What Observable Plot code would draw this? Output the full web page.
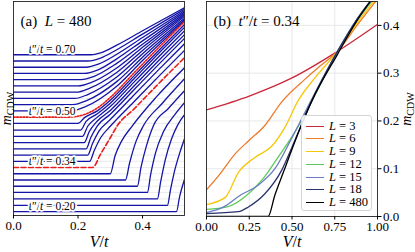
<!DOCTYPE html>
<html><head><meta charset="utf-8">
<script src="https://cdn.jsdelivr.net/npm/d3@7"></script>
<script src="https://cdn.jsdelivr.net/npm/@observablehq/plot@0.6"></script>
<style>
body{margin:0;background:#fff}
#wrap{position:relative;width:415px;height:252px;overflow:hidden;font-family:"Liberation Serif",serif;background:#fff}
.panel{position:absolute;top:0}
#legend{position:absolute;left:301px;top:115px;width:71px;height:96px;box-sizing:border-box;border:1px solid #d4d4d4;border-radius:3px;background:rgba(255,255,255,0.9)}
.row{position:absolute;left:0;height:12px;width:100%}
.sw{position:absolute;left:4px;width:18px;top:6px;height:0}
.lb{position:absolute;left:27px;top:0;font-size:12.5px;line-height:12px;height:12px;white-space:nowrap}
</style></head>
<body><div id="wrap"></div>
<script>
// ---------- panel (a): L = 480, curves for t''/t = 0.20 ... 0.70 ----------
const tppA = [0.20,0.22,0.24,0.26,0.28,0.30,0.32,0.34,0.36,0.38,0.40,0.42,0.44,0.46,0.48,0.50,0.52,0.54,0.56,0.58,0.60,0.62,0.64,0.66,0.68,0.70];
const aV = [
 [0,.505,.515,.53],
 [0,.477,.487,.50,.515,.53],
 [0,.446,.456,.47,.49,.51,.53],
 [0,.415,.425,.44,.465,.50,.53],
 [0,.384,.395,.412,.434,.48,.53],
 [0,.347,.36,.38,.403,.46,.53],
 [0,.30,.315,.335,.369,.44,.53],
 [0,.245,.27,.30,.322,.372,.45,.53],
 [0,.236,.25,.27,.30,.372,.45,.53],
 [0,.23,.245,.265,.30,.372,.45,.53],
 [0,.225,.24,.26,.30,.372,.45,.53],
 [0,.219,.235,.26,.30,.372,.45,.53],
 [0,.214,.23,.26,.30,.372,.45,.53],
 [0,.208,.225,.26,.30,.372,.45,.53],
 [0,.20,.22,.26,.30,.372,.45,.53],
 [0,.17,.20,.23,.26,.30,.372,.45,.53],
 [0,.18,.22,.32,.40,.53],
 [0,.185,.225,.32,.40,.53],
 [0,.19,.23,.32,.40,.53],
 [0,.195,.235,.32,.40,.53],
 [0,.20,.24,.32,.40,.53],
 [0,.21,.25,.32,.40,.53],
 [0,.22,.26,.32,.40,.53],
 [0,.225,.265,.32,.40,.53],
 [0,.23,.27,.32,.40,.53],
 [0,.24,.27,.32,.40,.53]
];
const aM = [
 [.008,.008,.04,.075],
 [.021,.021,.055,.095,.13,.16],
 [.0345,.0345,.07,.115,.16,.19,.21],
 [.048,.048,.085,.13,.175,.21,.235],
 [.061,.061,.10,.145,.1875,.223,.26],
 [.074,.074,.11,.155,.1875,.233,.285],
 [.087,.087,.125,.155,.1875,.245,.308],
 [.100,.100,.128,.162,.1875,.221,.275,.329],
 [.113,.113,.135,.162,.186,.236,.29,.344],
 [.126,.126,.15,.176,.20,.25,.304,.358],
 [.139,.139,.163,.187,.211,.261,.315,.369],
 [.152,.152,.175,.197,.219,.269,.323,.377],
 [.165,.165,.186,.205,.227,.277,.331,.385],
 [.178,.178,.196,.212,.234,.284,.338,.392],
 [.192,.192,.204,.218,.240,.290,.344,.398],
 [.205,.205,.207,.213,.224,.246,.296,.35,.404],
 [.218,.218,.226,.2695,.323,.406],
 [.231,.231,.239,.279,.330,.408],
 [.244,.244,.252,.2885,.337,.411],
 [.257,.257,.265,.298,.344,.415],
 [.270,.270,.277,.3075,.3505,.418],
 [.283,.283,.290,.317,.357,.421],
 [.296,.296,.303,.3265,.364,.424],
 [.309,.309,.316,.336,.371,.427],
 [.322,.322,.328,.3455,.378,.430],
 [.335,.335,.339,.355,.385,.433]
];
const labelledA = [0.70, 0.50, 0.34, 0.20];
const dashedA = 0.34, dottedA = 0.50;
const xTicksA = [0, 0.2, 0.4];

// ---------- panel (b): t''/t = 0.34, several L ----------
const sizesB = ["3","6","9","12","15","18","480"];
const colorsB = ["#c8283a","#ee7a2a","#f5c70a","#5ccc58","#6a7cc6","#2a336e","#000000"];
const bV = [
 [0,0.25,0.5,0.75,1.0],
 [0,0.07,0.17,0.245,0.34,0.44,0.575,0.675,0.767,0.88,1.0],
 [0,0.11,0.186,0.285,0.384,0.46,0.535,0.634,0.767,0.88,1.0],
 [0,0.12,0.227,0.326,0.42,0.5,0.6,0.767,0.88,1.0],
 [0,0.1,0.2,0.3,0.4,0.5,0.6,0.767,0.88,1.0],
 [0,0.186,0.245,0.34,0.44,0.5,0.6,0.767,0.88,1.0],
 [0,0.36,0.40,0.45,0.535,0.616,0.767,0.88,1.0]
];
const bM = [
 [0.223,0.252,0.290,0.342,0.402],
 [0.056,0.085,0.132,0.158,0.19,0.24,0.287,0.318,0.346,0.40,0.455],
 [0.025,0.04,0.092,0.124,0.148,0.1875,0.242,0.29,0.346,0.405,0.46],
 [0.015,0.02,0.042,0.077,0.125,0.167,0.23,0.346,0.41,0.465],
 [0.008,0.02,0.045,0.065,0.10,0.165,0.235,0.346,0.412,0.468],
 [0.006,0.01,0.02,0.047,0.097,0.145,0.23,0.346,0.413,0.47],
 [0,0,0.045,0.093,0.173,0.242,0.34,0.41,0.47]
];
const xTicksB = [0,0.25,0.5,0.75,1.0];
const yTicksB = [0,0.1,0.2,0.3,0.4];

// ---------- build tables ----------
const rowsA = tppA.flatMap((t,i)=>aV[i].map((v,j)=>({t, V:v, m:aM[i][j]})));
const blueA = rowsA.filter(d=>d.t!==dashedA && d.t!==dottedA);
const dashA = rowsA.filter(d=>d.t===dashedA);
const dotA = rowsA.filter(d=>d.t===dottedA);
const labA = labelledA.map(t=>({t, m: aM[tppA.indexOf(t)][0], txt: "*t*″/*t* = " + t.toFixed(2)}));
const rowsB = sizesB.flatMap((L,i)=>bV[i].map((v,j)=>({L, V:v, m:bM[i][j]})));

const blue = "#1414a8", red = "#e81c1c";
const font = {fontFamily:"Liberation Serif, serif", fontSize:"13px", background:"transparent", overflow:"visible"};

const plotA = Plot.plot({
  width:195, height:252, marginLeft:13, marginRight:11, marginTop:1, marginBottom:37,
  x:{domain:[0,0.53]}, y:{domain:[0,0.446], axis:null},
  style:font,
  marks:[
    Plot.ruleY(tppA.map((t,i)=>aM[i][0]), {stroke:"#e6e6e6", strokeWidth:0.8}),
    Plot.line(blueA, {x:"V", y:"m", z:"t", stroke:blue, strokeWidth:1.3, curve:"monotone-x", clip:true}),
    Plot.line(dotA, {x:"V", y:"m", stroke:red, strokeWidth:1.6, strokeDasharray:"1.6,1.6", curve:"monotone-x", clip:true}),
    Plot.line(dashA, {x:"V", y:"m", stroke:red, strokeWidth:1.6, strokeDasharray:"5,2.5", curve:"monotone-x", clip:true}),
    Plot.text(labA, {x:()=>0.12, y:d=>d.m+0.012, text:"txt", fontSize:11.5, stroke:"white", strokeWidth:3.5, fill:"black"}),
    Plot.frame({stroke:"#222", strokeWidth:0.9}),
    Plot.axisX({ticks:xTicksA, tickFormat:d3.format(".1f"), tickSize:3.5, tickPadding:2, label:null}),
    Plot.text(["*V*/*t*"], {frameAnchor:"bottom", dy:31, fontSize:16}),
    Plot.text(["*m*_{CDW}"], {frameAnchor:"left", textAnchor:"middle", rotate:-90, dx:-7, fontSize:14}),
    Plot.text(["(a)  *L* = 480"], {frameAnchor:"top-left", textAnchor:"start", dx:7, dy:14, fontSize:15})
  ]
});

const plotB = Plot.plot({
  width:220, height:252, marginLeft:11, marginRight:38, marginTop:1, marginBottom:36,
  x:{domain:[0,1]}, y:{domain:[0,0.45]},
  style:font,
  marks:[
    Plot.gridX([0.25,0.5,0.75], {stroke:"#e2e2e2", strokeOpacity:1, strokeWidth:0.8}),
    Plot.gridY([0.1,0.2,0.3,0.4], {stroke:"#e2e2e2", strokeOpacity:1, strokeWidth:0.8}),
    Plot.line(rowsB, {x:"V", y:"m", z:"L", stroke:d=>colorsB[sizesB.indexOf(d.L)], strokeWidth:1.3, curve:"monotone-x", clip:true}),
    Plot.frame({stroke:"#222", strokeWidth:0.9}),
    Plot.axisX({ticks:xTicksB, tickFormat:d3.format(".2f"), tickSize:3.5, tickPadding:2, label:null}),
    Plot.axisY({anchor:"right", ticks:yTicksB, tickFormat:d3.format(".1f"), tickSize:3.5, tickPadding:2, label:null}),
    Plot.text(["*V*/*t*"], {frameAnchor:"bottom", dy:30, fontSize:16}),
    Plot.text(["*m*_{CDW}"], {frameAnchor:"right", textAnchor:"middle", rotate:-90, dx:29, fontSize:14}),
    Plot.text(["(b)  *t*″/*t* = 0.34"], {frameAnchor:"top-left", textAnchor:"start", dx:7, dy:14, fontSize:15})
  ]
});

function mathify(root){
  root.querySelectorAll("text").forEach(el=>{
    if(el.children.length) return;
    const s = el.textContent;
    if(!/[*_]/.test(s)) return;
    el.textContent = "";
    const re = /\*([^*]+)\*|_\{([^}]+)\}|([^*_]+)/g; let m;
    while((m = re.exec(s))){
      const ts = document.createElementNS("http://www.w3.org/2000/svg","tspan");
      if(m[1]){ ts.setAttribute("font-style","italic"); ts.textContent = m[1]; }
      else if(m[2]){ ts.setAttribute("font-size","0.72em"); ts.setAttribute("dy","0.32em"); ts.textContent = m[2]; }
      else ts.textContent = m[3];
      el.appendChild(ts);
    }
  });
}
mathify(plotA); mathify(plotB);

const wrap = document.getElementById("wrap");
plotA.classList.add("panel"); plotA.style.left = "0px";
plotB.classList.add("panel"); plotB.style.left = "195px";
wrap.appendChild(plotA); wrap.appendChild(plotB);

const leg = document.createElement("div"); leg.id = "legend";
sizesB.forEach((L,i)=>{
  const r = document.createElement("div"); r.className = "row"; r.style.top = (3.5 + i*12.75) + "px";
  const sw = document.createElement("div"); sw.className = "sw"; sw.style.borderTop = "1.5px solid " + colorsB[i];
  const lb = document.createElement("div"); lb.className = "lb"; lb.innerHTML = "<i>L</i> = " + L;
  r.appendChild(sw); r.appendChild(lb); leg.appendChild(r);
});
wrap.appendChild(leg);
</script></body></html>
